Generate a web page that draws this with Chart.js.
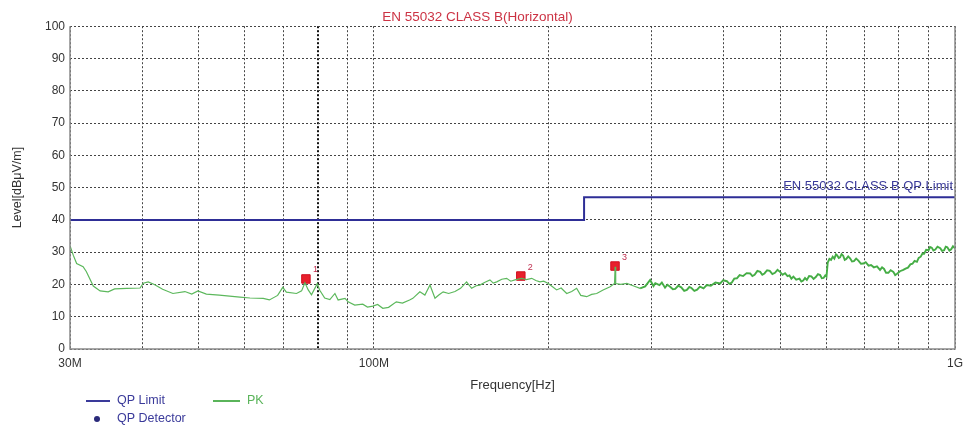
<!DOCTYPE html>
<html>
<head>
<meta charset="utf-8">
<title>EN 55032 CLASS B(Horizontal)</title>
<script src="https://cdn.jsdelivr.net/npm/chart.js@4/dist/chart.umd.min.js"></script>
<style>
  html, body { margin: 0; padding: 0; background: #fff; }
  #wrap { width: 965px; height: 425px; }
</style>
</head>
<body>
<div id="wrap"><canvas id="emiChart" width="965" height="425"></canvas></div>
<script>
// frequencies in MHz, levels in dBµV/m
const pkFreqs = [
  30, 30.4, 30.8, 31.6, 32.0, 32.9, 33.8, 34.9, 35.8, 37.6, 39.6, 40.1, 40.9, 41.9, 43.3,
  45.1, 47.3, 48.6, 49.8, 51.5, 54.2, 58.8, 61.2, 64.5, 66.1, 68.3, 69.7, 70.7, 73.6, 75.1,
  76.1, 77.1, 78.1, 79.9, 80.7, 82.3, 84.0, 85.7, 86.8, 89.2, 90.3, 92.7, 95.7, 97.5, 99.6,
  101.5, 103.6, 106, 109.3, 112, 115.2, 116.7, 120, 122.4, 124.9, 127.4, 129.5, 131.6, 134.5, 137.9,
  141, 144.4, 147.3, 150, 152.2, 155, 158.4, 160.5, 162.7, 166, 169.2, 172, 174.9, 179.6, 183,
  186.9, 190, 193.1, 196, 199.6, 203, 206.3, 210, 214.7, 219, 223.3, 227, 232.4, 237, 241.8,
  248, 255, 259.5, 260.1, 260.7, 266, 272.5, 280, 287.2, 293, 298.8, 302.8,
  305, 310, 313, 317, 320, 323.4, 327, 330, 334, 338,
  342, 345.6, 349, 352, 356, 360, 364, 369.2, 374, 380,
  387, 394.5, 399, 405, 409, 413, 417, 421.4, 426, 432,
  438, 444.2, 448, 452, 457, 462.2, 466, 470, 475, 480,
  485, 490, 495, 500, 505, 510, 515, 519, 523, 527.1,
  533, 540, 544, 548, 552, 556, 561, 566, 571, 576,
  581, 586, 590, 594, 598, 601, 604, 608, 612, 616,
  620, 624, 627, 631, 634.2, 638, 642, 646, 650, 655,
  659.8, 665, 670, 676, 682, 689, 695.5, 702, 710, 717,
  725, 734, 743, 749, 755, 761, 768, 775, 783.2, 789,
  795, 804, 814.8, 822, 830, 838, 845, 852, 860, 866,
  873, 879, 885, 892, 900.6, 906, 912, 918, 925, 933,
  943.3, 950, 958, 964, 970, 978, 985, 992, 1000
];
const pkLevels = [
  32, 29, 26.5, 25.5, 24, 19.5, 18, 17.7, 18.6, 18.8, 18.9, 20.4, 20.8, 20.0, 18.5,
  17.2, 17.8, 17.0, 18.0, 17.0, 16.7, 16.1, 15.8, 15.7, 15.2, 16.6, 19.1, 17.6, 17.2, 18.0,
  20.5, 18.3, 16.8, 20.2, 18.2, 15.8, 15.3, 17.2, 15.2, 15.7, 14.6, 13.6, 13.9, 13.0, 13.3,
  13.8, 12.6, 12.9, 14.6, 14.2, 15.2, 15.7, 17.7, 16.7, 19.8, 15.7, 16.8, 17.7, 17.2, 17.8,
  18.8, 20.8, 18.8, 19.6, 19.8, 20.6, 21.4, 20.4, 20.8, 21.6, 21.9, 21.0, 21.4, 21.9, 21.5,
  21.9, 21.2, 20.8, 21.0, 20.3, 19.3, 18.3, 18.9, 17.2, 17.8, 18.8, 16.6, 16.2, 16.9, 17.2,
  18.3, 19.3, 20.3, 25.5, 20.3, 20.0, 20.3, 19.5, 18.8, 19.4, 21.4, 19.5,
  20.4, 19.8, 20.6, 19.0, 19.9, 19.3, 18.5, 18.6, 19.6, 19.1,
  18.0, 18.3, 19.2, 18.9, 18.0, 18.4, 19.3, 18.8, 19.8, 19.6,
  20.6, 20.3, 21.3, 21.0, 20.2, 20.6, 21.8, 21.9, 22.9, 22.6,
  23.5, 23.4, 22.6, 23.0, 24.2, 23.9, 23.0, 23.4, 24.4, 24.2,
  23.2, 23.6, 24.5, 23.9, 23.0, 23.5, 22.6, 22.8, 21.8, 22.4,
  21.5, 21.8, 20.9, 21.2, 22.0, 21.4, 22.6, 22.5, 21.7, 22.3,
  23.2, 22.9, 21.9, 22.0, 22.8, 22.4, 26.8, 27.9, 27.6, 28.6,
  28.0, 29.3, 29.0, 28.2, 28.4, 29.4, 28.9, 27.6, 27.9, 28.7,
  28.1, 27.1, 27.2, 28.0, 27.4, 26.4, 26.5, 26.9, 25.8, 26.0,
  25.3, 25.6, 24.5, 25.3, 24.8, 23.6, 23.6, 24.4, 23.9, 22.9,
  23.3, 24.1, 24.5, 24.9, 25.2, 26.2, 26.4, 27.3, 27.0, 28.2,
  28.6, 29.6, 29.5, 30.7, 30.6, 31.6, 31.4, 30.5, 30.8, 31.7,
  31.2, 30.4, 30.6, 31.7, 31.5, 30.5, 30.9, 31.8, 31.2
];

const limitFreqs = [30, 230, 230, 1000];
const limitLevels = [40, 40, 47, 47];

const markerFreqs = [76.4, 179, 260];
const markerLevels = [21.7, 22.6, 25.7];
const markerNames = ['1', '2', '3'];

const gridFreqs = [30, 40, 50, 60, 70, 80, 90, 100, 200, 300, 400, 500, 600, 700, 800, 900, 1000];
const freqLabels = { 30: '30M', 100: '100M', 1000: '1G' };

const FONT = 'Liberation Sans, Arial, sans-serif';

function toPoints(xs, ys) {
  return xs.map((x, i) => ({ x: x, y: ys[i] }));
}

// frame, limit label, marker numbers and the legend
const decorPlugin = {
  id: 'decor',
  afterDraw(chart) {
    const ctx = chart.ctx;
    const area = chart.chartArea;
    const xs = chart.scales.x;
    const ys = chart.scales.y;
    ctx.save();

    ctx.strokeStyle = '#8a8a8a';
    ctx.lineWidth = 1.5;
    ctx.beginPath();
    ctx.moveTo(area.left, area.top);
    ctx.lineTo(area.left, area.bottom);
    ctx.lineTo(area.right, area.bottom);
    ctx.lineTo(area.right, area.top);
    ctx.stroke();

    ctx.font = '13px ' + FONT;
    ctx.fillStyle = '#3a3a9a';
    ctx.textAlign = 'right';
    ctx.textBaseline = 'middle';
    ctx.fillText('EN 55032 CLASS B QP Limit', area.right - 2,
      ys.getPixelForValue(limitLevels[limitLevels.length - 1]) - 11);

    ctx.font = '9px ' + FONT;
    ctx.fillStyle = '#c03050';
    ctx.textAlign = 'left';
    markerFreqs.forEach((f, i) => {
      const px = xs.getPixelForValue(f);
      const py = ys.getPixelForValue(markerLevels[i]);
      ctx.fillText(markerNames[i], px + 7, py - 9);
    });

    // legend
    ctx.font = '12.5px ' + FONT;
    ctx.lineWidth = 2;
    ctx.strokeStyle = '#3a3a9a';
    ctx.beginPath(); ctx.moveTo(86, 401); ctx.lineTo(110, 401); ctx.stroke();
    ctx.fillStyle = '#3a3a9a';
    ctx.fillText('QP Limit', 117, 401);
    ctx.strokeStyle = '#5ab45a';
    ctx.beginPath(); ctx.moveTo(213, 401); ctx.lineTo(240, 401); ctx.stroke();
    ctx.fillStyle = '#5ab45a';
    ctx.fillText('PK', 247, 401);
    ctx.fillStyle = '#2a2a7a';
    ctx.beginPath(); ctx.arc(97, 419, 3, 0, Math.PI * 2); ctx.fill();
    ctx.fillStyle = '#3a3a9a';
    ctx.fillText('QP Detector', 117, 419);

    ctx.restore();
  }
};

new Chart(document.getElementById('emiChart'), {
  type: 'line',
  data: {
    datasets: [
      {
        label: 'QP Limit',
        data: toPoints(limitFreqs, limitLevels),
        borderColor: '#2e2e96',
        borderWidth: 2,
        pointRadius: 0,
        tension: 0
      },
      {
        label: 'PK',
        data: toPoints(pkFreqs, pkLevels),
        borderColor: '#4caf50',
        borderWidth: 1.3,
        pointRadius: 0,
        tension: 0,
        segment: {
          // the upper band is a dense noisy trace, drawn a bit heavier
          borderWidth: (c) => c.p0.parsed.x > 280 ? 1.9 : 1.2,
          borderColor: (c) => c.p0.parsed.x > 280 ? '#45ad45' : '#5cb85c'
        }
      },
      {
        label: 'Markers',
        data: toPoints(markerFreqs, markerLevels),
        showLine: false,
        pointStyle: 'rect',
        pointRadius: 6,
        backgroundColor: '#e8202c',
        borderColor: '#d01020',
        borderWidth: 1
      },
      {
        label: 'Marker cross',
        data: toPoints(markerFreqs, markerLevels),
        showLine: false,
        pointStyle: 'crossRot',
        pointRadius: 3.5,
        borderColor: '#a01018',
        borderWidth: 1
      }
    ]
  },
  options: {
    responsive: false,
    animation: false,
    layout: { padding: { left: 0, right: 10, top: 0, bottom: 30 } },
    plugins: {
      legend: { display: false },
      tooltip: { enabled: false },
      title: {
        display: true,
        text: 'EN 55032 CLASS B(Horizontal)',
        color: '#cc3344',
        font: { family: FONT, size: 13.5, weight: 'normal' },
        padding: { top: 9, bottom: 1 }
      }
    },
    scales: {
      x: {
        type: 'logarithmic',
        min: 30,
        max: 1000,
        afterBuildTicks: (scale) => {
          scale.ticks = gridFreqs.map(v => ({ value: v }));
        },
        afterFit: (scale) => {
          scale.height = 46;
          scale.paddingLeft = 0;
          scale.paddingRight = 0;
        },
        grid: {
          drawTicks: false,
          color: (c) => (c.tick && c.tick.value === 80) ? '#111' : '#444',
          lineWidth: (c) => (c.tick && c.tick.value === 80) ? 2 : 1
        },
        border: { display: false, dash: [2, 2] },
        ticks: {
          autoSkip: false,
          maxRotation: 0,
          padding: 7,
          color: '#333',
          font: { family: FONT, size: 12 },
          callback: (value) => freqLabels[value] || ''
        },
        title: {
          display: true,
          text: 'Frequency[Hz]',
          color: '#333',
          font: { family: FONT, size: 13 },
          padding: { top: 0, bottom: 2 }
        }
      },
      y: {
        min: 0,
        max: 100,
        afterFit: (scale) => { scale.width = 70; },
        grid: { drawTicks: false, color: '#444', lineWidth: 1 },
        border: { display: false, dash: [2, 2] },
        ticks: {
          stepSize: 10,
          padding: 5,
          color: '#333',
          font: { family: FONT, size: 12 }
        },
        title: {
          display: true,
          text: 'Level[dBμV/m]',
          color: '#333',
          font: { family: FONT, size: 12.5 },
          padding: { top: 10, bottom: 0 }
        }
      }
    }
  },
  plugins: [decorPlugin]
});
</script>
</body>
</html>
